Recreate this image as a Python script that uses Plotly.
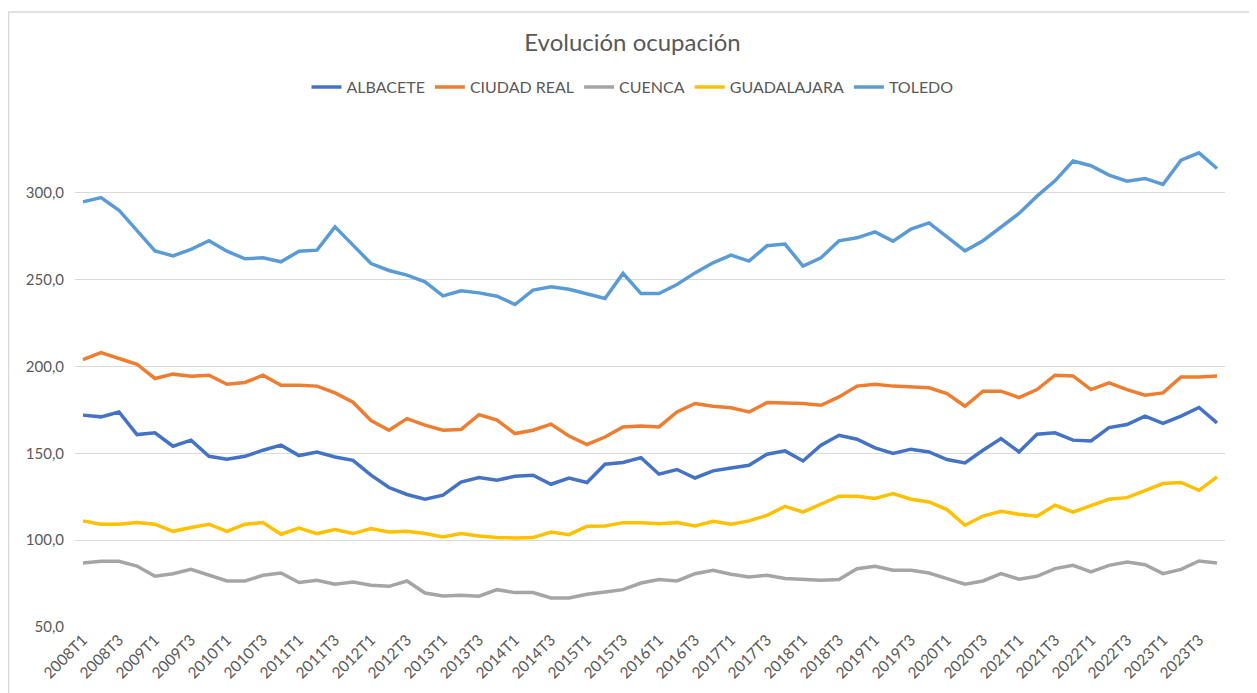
import plotly.graph_objects as go

quarters = [f"{y}T{q}" for y in range(2008, 2024) for q in range(1, 5)]

albacete = [172.0, 171.0, 173.8, 160.8, 161.8, 154.1, 157.6, 148.3, 146.6, 148.3,
            151.8, 154.7, 148.7, 150.8, 147.9, 146.0, 137.4, 130.3, 126.3, 123.6,
            125.9, 133.5, 136.1, 134.5, 136.8, 137.4, 132.2, 135.8, 133.2, 143.7,
            144.7, 147.5, 138.0, 140.7, 135.8, 139.9, 141.6, 143.1, 149.5, 151.4,
            145.6, 154.7, 160.4, 158.1, 153.1, 149.9, 152.4, 150.8, 146.4, 144.5,
            151.8, 158.5, 150.8, 161.0, 161.8, 157.6, 157.1, 164.8, 166.6, 171.4,
            167.2, 171.4, 176.4, 167.5]

ciudad_real = [204.0, 208.0, 204.6, 201.3, 193.1, 195.6, 194.4, 195.0, 189.8, 190.8,
               195.0, 189.2, 189.2, 188.7, 184.8, 179.4, 168.9, 163.3, 170.0, 166.2,
               163.3, 163.7, 172.3, 169.1, 161.4, 163.3, 166.8, 160.0, 155.1, 159.4,
               165.2, 165.8, 165.2, 173.8, 178.7, 177.1, 176.2, 173.8, 179.2, 179.2,
               178.7, 177.7, 182.5, 188.7, 189.8, 188.7, 188.3, 187.7, 184.4, 177.1,
               185.8, 185.8, 182.1, 186.7, 195.0, 194.6, 186.7, 190.6, 186.7, 183.5,
               184.8, 194.0, 194.0, 194.6]

cuenca = [86.9, 87.8, 87.8, 85.1, 79.2, 80.7, 83.2, 79.8, 76.5, 76.5,
          79.8, 81.1, 75.6, 76.9, 74.6, 75.9, 74.0, 73.4, 76.5, 69.6,
          67.9, 68.3, 67.7, 71.5, 69.8, 69.8, 66.7, 66.7, 68.8, 70.2,
          71.5, 75.3, 77.3, 76.5, 80.7, 82.7, 80.4, 78.8, 79.8, 77.9,
          77.3, 76.9, 77.3, 83.6, 85.0, 82.7, 82.7, 81.1, 77.9, 74.6,
          76.5, 80.7, 77.5, 79.2, 83.6, 85.5, 81.7, 85.5, 87.4, 85.9,
          80.7, 83.2, 88.0, 86.9]

guadalajara = [111.1, 109.2, 109.2, 110.1, 109.2, 105.1, 107.3, 109.2, 105.1, 109.2,
               110.1, 103.4, 107.0, 103.8, 106.1, 103.8, 106.7, 104.7, 105.1, 103.8,
               101.8, 103.8, 102.4, 101.5, 101.3, 101.5, 104.7, 103.2, 108.0, 108.2,
               110.1, 110.1, 109.5, 110.1, 108.2, 110.9, 109.2, 111.1, 114.3, 119.5,
               116.2, 120.7, 125.3, 125.3, 124.0, 126.8, 123.6, 122.0, 117.6, 108.6,
               113.9, 116.6, 114.9, 113.8, 120.1, 116.2, 120.1, 123.6, 124.5, 128.7,
               132.6, 133.2, 128.7, 136.4]

toledo = [294.8, 297.3, 290.0, 278.5, 266.6, 263.7, 267.5, 272.4, 266.4, 262.0,
          262.6, 260.3, 266.4, 267.0, 280.4, 269.9, 259.3, 255.3, 252.6, 248.7,
          240.7, 243.6, 242.4, 240.5, 235.7, 244.0, 245.9, 244.5, 242.0, 239.2,
          253.6, 242.0, 242.0, 247.2, 253.9, 259.7, 264.1, 260.7, 269.5, 270.5,
          257.8, 262.6, 272.4, 274.1, 277.5, 272.2, 279.1, 282.7, 274.7, 266.6,
          272.4, 280.4, 288.1, 298.1, 306.9, 318.3, 315.6, 310.2, 306.7, 308.3,
          304.8, 318.8, 323.0, 314.0]

series = [
    ("ALBACETE", albacete, "#4472C4"),
    ("CIUDAD REAL", ciudad_real, "#ED7D31"),
    ("CUENCA", cuenca, "#A5A5A5"),
    ("GUADALAJARA", guadalajara, "#FFC000"),
    ("TOLEDO", toledo, "#5B9BD5"),
]

y_ticks = [50, 100, 150, 200, 250, 300]
x_ticks = quarters[::2]

FONT = "Lato, 'Open Sans', sans-serif"
GREY = "#595959"

# the page body has an 8px margin, so the figure is sized to fill the rest of the window
W, H = 1249, 685

fig = go.Figure()
for name, vals, color in series:
    fig.add_trace(go.Scatter(
        x=quarters, y=vals, name=name, mode="lines",
        line=dict(color=color, width=3.5),
    ))

fig.update_layout(
    width=W, height=H,
    paper_bgcolor="white", plot_bgcolor="white",
    margin=dict(l=67, r=32, t=98, b=66, autoexpand=False),
    separators=",.",
    font=dict(family=FONT, color=GREY, size=14),
    title=dict(text="Evolución ocupación", x=0.5, xref="container", xanchor="center",
               y=1 - 35 / H, yref="container", yanchor="middle",
               font=dict(size=24, color=GREY, family=FONT)),
    legend=dict(orientation="h", xref="container", x=0.5, xanchor="center",
                yref="container", y=1 - 79 / H, yanchor="middle",
                font=dict(size=16, color=GREY, family=FONT),
                itemwidth=30, tracegroupgap=0),
    showlegend=True,
)

fig.update_xaxes(
    type="category", range=[-0.444, 63.444], automargin=False,
    tickmode="array", tickvals=x_ticks, ticktext=x_ticks,
    tickangle=-45, showgrid=False, showline=False, zeroline=False,
    ticks="", tickfont=dict(size=15.5, color=GREY),
)
fig.update_yaxes(
    range=[50, 350], tickmode="array", tickvals=y_ticks, automargin=False,
    tickformat=".1f", showgrid=True, gridcolor="#D9D9D9", gridwidth=1.3,
    zeroline=False, showline=False, ticks="", ticklabelstandoff=10,
    tickfont=dict(size=15, color=GREY),
)

fig.add_shape(type="rect", xref="paper", yref="paper",
              x0=(0.7 - 67) / 1150, x1=(1242 - 67) / 1150,
              y0=-0.3, y1=(619 - 4) / 521,
              line=dict(color="#D9D9D9", width=1.3), fillcolor="rgba(0,0,0,0)",
              layer="below")

fig.write_html("out.html")
